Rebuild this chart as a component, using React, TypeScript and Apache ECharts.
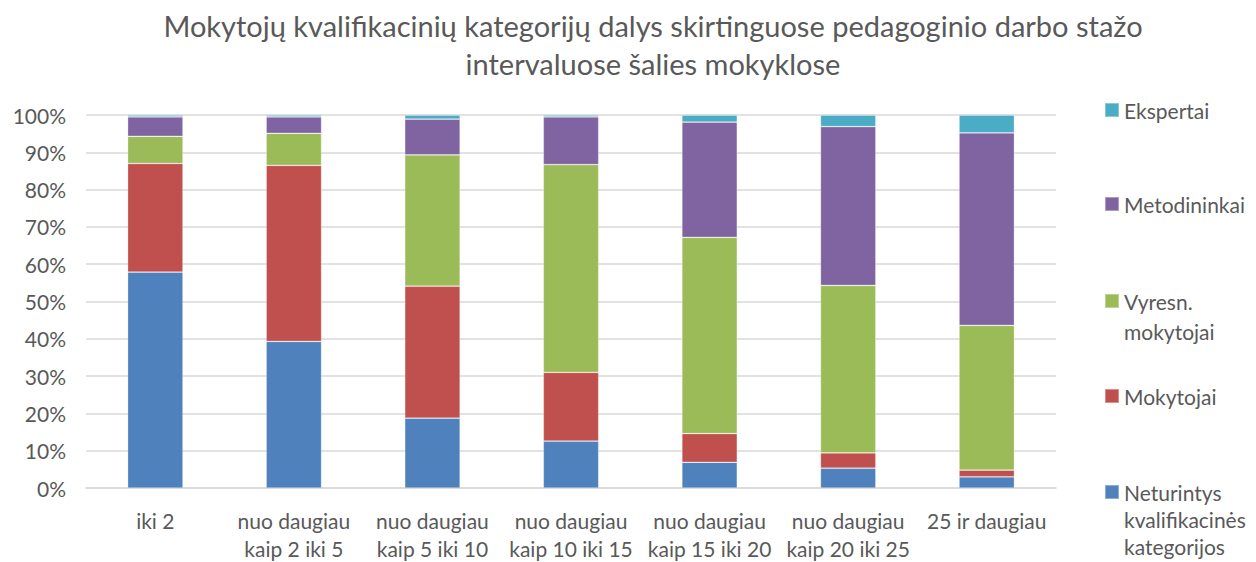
import React, { useEffect, useRef } from "react";
import * as echarts from "echarts";

const categories = [
  "iki 2",
  "nuo daugiau\nkaip 2 iki 5",
  "nuo daugiau\nkaip 5 iki 10",
  "nuo daugiau\nkaip 10 iki 15",
  "nuo daugiau\nkaip 15 iki 20",
  "nuo daugiau\nkaip 20 iki 25",
  "25 ir daugiau",
];

const neturintys = [57.9, 39.3, 18.7, 12.6, 6.9, 5.3, 3.0];
const mokytojai = [29.1, 47.2, 35.4, 18.4, 7.7, 4.1, 1.8];
const vyresn = [7.3, 8.6, 35.2, 55.7, 52.6, 44.9, 38.8];
const metodininkai = [5.2, 4.4, 9.6, 12.8, 30.9, 42.6, 51.6];
const ekspertai = [0.5, 0.5, 1.1, 0.5, 1.9, 3.1, 4.8];

const seriesNames = [
  "Neturintys\nkvalifikacinės\nkategorijos",
  "Mokytojai",
  "Vyresn.\nmokytojai",
  "Metodininkai",
  "Ekspertai",
];
const seriesData = [neturintys, mokytojai, vyresn, metodininkai, ekspertai];
const colors = ["#4f81bd", "#c0504d", "#9bbb59", "#8064a2", "#4bacc6"];

const FONT = "Lato";
const TEXT = "#595959";

export default function App() {
  const ref = useRef<HTMLDivElement>(null);
  useEffect(() => {
    if (!ref.current) return;
    const chart = echarts.init(ref.current, undefined, { renderer: "svg" });
    const iconCenters = [492, 396, 301, 204, 110];
    const legends = seriesNames.map((name, i) => {
      const nLines = name.split("\n").length;
      const LH = nLines > 2 ? 27 : 30;
      const blank = nLines - 1;
      const totalLines = nLines + blank;
      return {
        orient: "vertical",
        left: 1104,
        top: iconCenters[i] - (totalLines * LH) / 2,
        padding: 0,
        itemWidth: 14,
        itemHeight: 14,
        itemGap: 6,
        data: [{ name, icon: "rect" }],
        formatter: (n: string) => "\n".repeat(blank) + n,
        textStyle: {
          fontFamily: FONT,
          fontSize: 21,
          color: TEXT,
          lineHeight: LH,
        },
        selectedMode: false,
      };
    });
    chart.setOption({
      animation: false,
      color: colors,
      textStyle: { fontFamily: FONT },
      title: {
        text: "Mokytojų kvalifikacinių kategorijų dalys skirtinguose pedagoginio darbo stažo\nintervaluose šalies mokyklose",
        left: 648,
        top: 1,
        textAlign: "center",
        textStyle: {
          fontFamily: FONT,
          fontSize: 29,
          fontWeight: "normal",
          color: TEXT,
          lineHeight: 38,
        },
      },
      legend: legends,
      grid: { left: 86, right: 200, top: 115, bottom: 70, containLabel: false },
      xAxis: {
        type: "category",
        data: categories,
        axisLine: { show: true, lineStyle: { color: "#d9d9d9", width: 1.5 } },
        axisTick: { show: false },
        axisLabel: {
          interval: 0,
          color: TEXT,
          fontFamily: FONT,
          fontSize: 21,
          lineHeight: 28,
          margin: 18,
        },
      },
      yAxis: {
        type: "value",
        min: 0,
        max: 100,
        interval: 10,
        axisLine: { show: false },
        axisTick: { show: false },
        axisLabel: {
          formatter: "{value}%",
          color: TEXT,
          fontFamily: FONT,
          fontSize: 21,
          margin: 20,
        },
        splitLine: { lineStyle: { color: "#d9d9d9", width: 1.5 } },
      },
      series: seriesNames.map((name, i) => ({
        name,
        type: "bar",
        stack: "total",
        barWidth: "40%",
        data: seriesData[i],
        itemStyle: { color: colors[i], borderColor: "rgba(255,255,255,0.35)", borderWidth: 0.75 },
      })),
    });
    return () => chart.dispose();
  }, []);
  return (
    <div
      ref={ref}
      style={{ position: "fixed", left: 0, top: 0, width: 1256, height: 562, background: "#fff" }}
    />
  );
}
